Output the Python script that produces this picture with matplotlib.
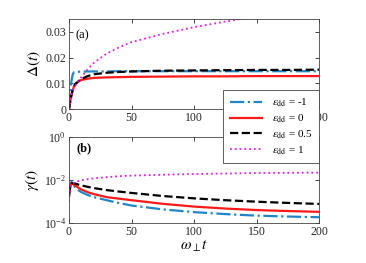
import matplotlib.pyplot as plt
import numpy as np

plt.rcParams['font.family'] = 'Liberation Serif'
plt.rcParams['mathtext.fontset'] = 'stix'
plt.rcParams['font.size'] = 8.5

t = [0, 1, 2, 3, 4, 5, 8, 10, 15, 20, 30, 40, 50, 75, 100, 125, 150, 175, 200]

# Delta(t), panel (a)
delta_m1 = [0, 0.007, 0.011, 0.0135, 0.0143, 0.0144, 0.0145, 0.0145, 0.0146, 0.0146,
            0.0146, 0.0147, 0.0147, 0.0147, 0.0147, 0.0147, 0.0147, 0.0147, 0.0147]
delta_0 = [0, 0.003, 0.0055, 0.0075, 0.0088, 0.0097, 0.0108, 0.0113, 0.0118, 0.0121,
           0.0123, 0.0124, 0.0125, 0.0126, 0.0127, 0.0127, 0.0128, 0.0128, 0.0128]
delta_05 = [0, 0.003, 0.0055, 0.0075, 0.0088, 0.0097, 0.0110, 0.0117, 0.0128, 0.0135,
            0.0141, 0.0144, 0.0146, 0.0149, 0.0150, 0.0151, 0.0152, 0.0152, 0.0153]
delta_1 = [0, 0.003, 0.0055, 0.0072, 0.0082, 0.009, 0.0112, 0.0125, 0.0155, 0.0180,
           0.0215, 0.0240, 0.0260, 0.0292, 0.0318, 0.0340, 0.0360, 0.0375, 0.0388]

# gamma(t), panel (b)
gamma_m1 = [2e-3, 6e-3, 8e-3, 7e-3, 5.5e-3, 4.5e-3, 3.2e-3, 2.7e-3, 2.0e-3, 1.6e-3,
            1.15e-3, 8.5e-4, 6.5e-4, 4.3e-4, 3.2e-4, 2.6e-4, 2.2e-4, 2.0e-4, 1.85e-4]
gamma_0 = [2e-3, 5e-3, 7e-3, 6.8e-3, 6e-3, 5.5e-3, 4.2e-3, 3.6e-3, 2.7e-3, 2.2e-3,
           1.6e-3, 1.35e-3, 1.15e-3, 7.8e-4, 5.8e-4, 4.7e-4, 4.0e-4, 3.6e-4, 3.3e-4]
gamma_05 = [2e-3, 5e-3, 7e-3, 7.2e-3, 7e-3, 6.8e-3, 6.0e-3, 5.6e-3, 4.8e-3, 4.2e-3,
            3.4e-3, 2.9e-3, 2.5e-3, 1.8e-3, 1.4e-3, 1.15e-3, 9.8e-4, 8.6e-4, 7.7e-4]
gamma_1 = [1e-3, 4e-3, 6e-3, 7e-3, 7.5e-3, 8e-3, 9e-3, 9.8e-3, 1.1e-2, 1.2e-2,
           1.35e-2, 1.5e-2, 1.6e-2, 1.75e-2, 1.9e-2, 2.0e-2, 2.1e-2, 2.15e-2, 2.2e-2]

labels = [r'$\epsilon_{\rm dd}$ = -1', r'$\epsilon_{\rm dd}$ = 0',
          r'$\epsilon_{\rm dd}$ = 0.5', r'$\epsilon_{\rm dd}$ = 1']
colors = ['#1f86c8', '#ff1a1a', 'black', '#e020e0']
styles = ['-.', '-', '--', ':']

fig = plt.figure(figsize=(3.66, 2.63), dpi=100)
ax1 = fig.add_axes([69 / 366, 1 - 109 / 263, 250 / 366, 90 / 263])
ax2 = fig.add_axes([69 / 366, 1 - 223 / 263, 250 / 366, 86 / 263])

for y, c, s in zip([delta_m1, delta_0, delta_05, delta_1], colors, styles):
    ax1.plot(t, y, color=c, linestyle=s, lw=1.6 if s != ':' else 1.3)
lines = []
for y, c, s, lab in zip([gamma_m1, gamma_0, gamma_05, gamma_1], colors, styles, labels):
    l, = ax2.plot(t, y, color=c, linestyle=s, lw=1.6 if s != ':' else 1.3, label=lab)
    lines.append(l)

ax1.set_xlim(0, 200)
ax1.set_ylim(0, 0.035)
ax1.set_yticks([0, 0.01, 0.02, 0.03])
ax1.set_yticklabels(['0', '0.01', '0.02', '0.03'])
ax1.set_xticks([0, 50, 100, 150, 200])
ax1.set_ylabel(r'$\Delta(t)$', fontsize=11, labelpad=2)
ax1.text(0.025, 0.82, '(a)', transform=ax1.transAxes, fontsize=9, va='center')

ax2.set_yscale('log')
ax2.set_xlim(0, 200)
ax2.set_ylim(1e-4, 1)
ax2.set_yticks([1e-4, 1e-2, 1])
ax2.minorticks_off()
ax2.set_xticks([0, 50, 100, 150, 200])
ax2.set_ylabel(r'$\gamma(t)$', fontsize=11, labelpad=2)
ax2.set_xlabel(r'$\omega_{\perp}t$', fontsize=11, labelpad=1)
ax2.text(0.03, 0.87, '(b)', transform=ax2.transAxes, fontsize=9, fontweight='bold', va='center')

for ax in (ax1, ax2):
    ax.tick_params(direction='in', top=True, right=True, length=3, width=0.6,
                   colors='#262626', labelcolor='#262626', pad=2)
    for sp in ax.spines.values():
        sp.set_color('#444444')
        sp.set_linewidth(0.6)

leg = fig.legend(lines, labels, loc='upper right', bbox_to_anchor=(319 / 366, 1 - 90 / 263),
                 fancybox=False, framealpha=1, edgecolor='#444444', fontsize=8,
                 handlelength=2.9, borderpad=0.6, labelspacing=0.3, handletextpad=0.9,
                 borderaxespad=0)
leg.get_frame().set_linewidth(0.6)

fig.savefig('out.png', dpi=100)
